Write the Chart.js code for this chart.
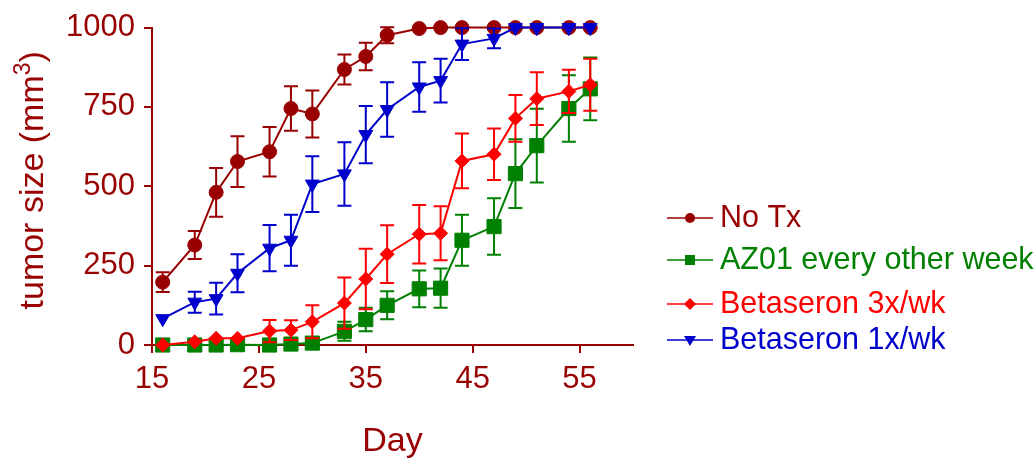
<!DOCTYPE html>
<html>
<head>
<meta charset="utf-8">
<script src="https://cdn.jsdelivr.net/npm/chart.js@4.4.0/dist/chart.umd.min.js"></script>
<style>
  body { margin: 0; background: #fff; }
  #wrap { position: relative; width: 1034px; height: 459px; }
</style>
</head>
<body>
<div id="wrap"><canvas id="tumorChart"></canvas></div>
<script>
// data
const days = [16, 19, 21, 23, 26, 28, 30, 33, 35, 37, 40, 42, 44, 47, 49, 51, 54, 56];

const noTx = [198, 315, 481, 578, 609, 745, 728, 868, 909, 976, 997, 1000, 1000, 1000, 1000, 1000, 1000, 1000];
const noTxErr = [31, 44, 77, 80, 78, 70, 74, 47, 43, 25, 5, 0, 0, 0, 0, 0, 0, 0];

const az01 = [0, 0, 0, 1, 0, 3, 6, 43, 80, 125, 177, 179, 330, 373, 540, 628, 745, 807];
const az01Err = [0, 0, 0, 0, 0, 4, 6, 30, 37, 44, 58, 62, 80, 89, 108, 116, 105, 99];

const beta3x = [0, 10, 21, 21, 44, 47, 73, 132, 208, 286, 349, 352, 580, 601, 714, 776, 799, 820];
const beta3xErr = [0, 0, 0, 0, 35, 31, 52, 81, 95, 91, 92, 85, 86, 81, 74, 83, 68, 82];

const beta1x = [83, 135, 146, 226, 305, 330, 507, 539, 663, 742, 813, 833, 948, 966, 1000, 1000, 1000, 1000];
const beta1xErr = [0, 33, 50, 60, 73, 80, 88, 100, 90, 86, 78, 69, 50, 31, 0, 0, 0, 0];

const seriesNames = ["No Tx", "AZ01 every other week", "Betaseron 3x/wk", "Betaseron 1x/wk"];
const xTicks = [15, 25, 35, 45, 55];
const yTicks = [0, 250, 500, 750, 1000];

const axisColor = "#990000";
const fontFamily = "'Liberation Sans', Arial, sans-serif";

function toPoints(values) {
  return days.map((d, i) => ({ x: d, y: values[i] }));
}

function makeSet(label, values, errs, color, style, radius, rotation, order) {
  return {
    label: label,
    data: toPoints(values),
    errors: errs,
    borderColor: color,
    backgroundColor: color,
    borderWidth: 2,
    pointStyle: style,
    pointRadius: radius,
    pointHoverRadius: radius,
    pointRotation: rotation,
    pointBorderWidth: 1,
    pointBorderColor: color,
    pointBackgroundColor: color,
    tension: 0,
    clip: false,
    order: order,
  };
}

// error bars drawn under each series' own line
const errorBars = {
  id: "errorBars",
  beforeDatasetDraw(chart, args) {
    const ds = chart.data.datasets[args.index];
    if (!ds.errors) return;
    const xs = chart.scales.x;
    const ys = chart.scales.y;
    const ctx = chart.ctx;
    ctx.save();
    ctx.strokeStyle = ds.borderColor;
    ctx.lineWidth = 2;
    ds.data.forEach((p, i) => {
      const e = ds.errors[i];
      if (!e) return;
      const x = xs.getPixelForValue(p.x);
      const top = ys.getPixelForValue(p.y + e);
      const bot = ys.getPixelForValue(p.y - e);
      ctx.beginPath();
      ctx.moveTo(x, top);
      ctx.lineTo(x, bot);
      ctx.moveTo(x - 7, top);
      ctx.lineTo(x + 7, top);
      ctx.moveTo(x - 7, bot);
      ctx.lineTo(x + 7, bot);
      ctx.stroke();
    });
    ctx.restore();
  },
};

// y title with a real superscript
const yTitle = {
  id: "yTitle",
  afterDraw(chart) {
    const ctx = chart.ctx;
    const area = chart.chartArea;
    const main = "tumor size (mm";
    const sup = "3";
    const close = ")";
    ctx.save();
    ctx.fillStyle = axisColor;
    ctx.textBaseline = "alphabetic";
    ctx.textAlign = "left";
    ctx.font = "34px " + fontFamily;
    const wMain = ctx.measureText(main).width;
    const wClose = ctx.measureText(close).width;
    ctx.font = "23px " + fontFamily;
    const wSup = ctx.measureText(sup).width;
    const total = wMain + wSup + wClose;
    const mid = (area.top + area.bottom) / 2 - 6;
    ctx.translate(43, mid + total / 2);
    ctx.rotate(-Math.PI / 2);
    ctx.font = "34px " + fontFamily;
    ctx.fillText(main, 0, 0);
    ctx.font = "23px " + fontFamily;
    ctx.fillText(sup, wMain, -13);
    ctx.font = "34px " + fontFamily;
    ctx.fillText(close, wMain + wSup, 0);
    ctx.restore();
  },
};

// legend on the right: short line, marker, coloured name
const sideLegend = {
  id: "sideLegend",
  afterDraw(chart) {
    const ctx = chart.ctx;
    const rows = [218, 260, 304, 340];
    const shapes = ["circle", "rect", "diamond", "triangle"];
    ctx.save();
    chart.data.datasets.forEach((ds, i) => {
      const y = rows[i];
      ctx.strokeStyle = ds.borderColor;
      ctx.fillStyle = ds.borderColor;
      ctx.lineWidth = 1.5;
      ctx.beginPath();
      ctx.moveTo(667, y);
      ctx.lineTo(713, y);
      ctx.stroke();
      const cx = 690;
      ctx.beginPath();
      if (shapes[i] === "circle") {
        ctx.arc(cx, y, 5, 0, Math.PI * 2);
      } else if (shapes[i] === "rect") {
        ctx.rect(cx - 5, y - 5, 10, 10);
      } else if (shapes[i] === "diamond") {
        ctx.moveTo(cx - 6, y);
        ctx.lineTo(cx, y - 6);
        ctx.lineTo(cx + 6, y);
        ctx.lineTo(cx, y + 6);
        ctx.closePath();
      } else {
        ctx.moveTo(cx - 6, y - 4);
        ctx.lineTo(cx + 6, y - 4);
        ctx.lineTo(cx, y + 6);
        ctx.closePath();
      }
      ctx.fill();
      ctx.font = "30.5px " + fontFamily;
      ctx.textBaseline = "middle";
      ctx.textAlign = "left";
      ctx.fillText(ds.label, 720, y + 1);
    });
    ctx.restore();
  },
};

const ctx = document.getElementById("tumorChart").getContext("2d");

new Chart(ctx, {
  type: "line",
  data: {
    datasets: [
      makeSet(seriesNames[0], noTx, noTxErr, "#990000", "circle", 7, 0, 4),
      makeSet(seriesNames[1], az01, az01Err, "#008000", "rect", 10, 0, 3),
      makeSet(seriesNames[2], beta3x, beta3xErr, "#ff0000", "rectRot", 7, 0, 2),
      makeSet(seriesNames[3], beta1x, beta1xErr, "#0000cc", "triangle", 8, 180, 1),
    ],
  },
  options: {
    responsive: true,
    maintainAspectRatio: false,
    animation: false,
    events: [],
    layout: { padding: { left: 0, top: 23, right: 401, bottom: 0 } },
    plugins: {
      legend: { display: false },
      tooltip: { enabled: false },
    },
    scales: {
      x: {
        type: "linear",
        min: 15,
        max: 60,
        afterBuildTicks: (scale) => {
          scale.ticks = xTicks.map((v) => ({ value: v }));
        },
        afterFit: (scale) => {
          scale.height = 114;
        },
        border: { display: true, color: axisColor, width: 2 },
        grid: { display: true, drawOnChartArea: false, drawTicks: true, tickLength: 8, color: axisColor, lineWidth: 2 },
        ticks: { color: axisColor, font: { family: fontFamily, size: 31 }, padding: 8, maxRotation: 0, callback: (v) => String(v) },
        title: {
          display: true,
          text: "Day",
          color: axisColor,
          font: { family: fontFamily, size: 34, lineHeight: 1 },
          padding: { top: 0, bottom: 0 },
        },
      },
      y: {
        min: 0,
        max: 1000,
        afterBuildTicks: (scale) => {
          scale.ticks = yTicks.map((v) => ({ value: v }));
        },
        afterFit: (scale) => {
          scale.width = 152;
        },
        border: { display: true, color: axisColor, width: 2 },
        grid: { display: true, drawOnChartArea: false, drawTicks: true, tickLength: 8, color: axisColor, lineWidth: 2 },
        ticks: { color: axisColor, font: { family: fontFamily, size: 31 }, padding: 9, callback: (v) => String(v) },
        title: { display: false },
      },
    },
  },
  plugins: [errorBars, yTitle, sideLegend],
});
</script>
</body>
</html>
